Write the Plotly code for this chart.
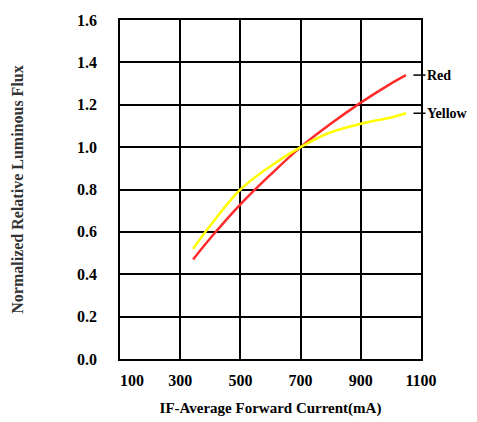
import plotly.graph_objects as go

# Data
red_x = [343, 400, 500, 600, 700, 800, 900, 1000, 1050]
red_y = [0.47, 0.57, 0.73, 0.87, 1.00, 1.11, 1.21, 1.30, 1.34]
yel_x = [343, 400, 500, 600, 700, 800, 900, 1000, 1050]
yel_y = [0.52, 0.63, 0.80, 0.91, 1.00, 1.07, 1.11, 1.14, 1.16]
x_ticks = [100, 300, 500, 700, 900, 1100]
y_ticks = [0.0, 0.2, 0.4, 0.6, 0.8, 1.0, 1.2, 1.4, 1.6]
series_names = ["Red", "Yellow"]

FONT = "Liberation Serif"

fig = go.Figure()
fig.add_trace(go.Scatter(x=red_x, y=red_y, mode="lines", line=dict(color="#FF2A2A", width=2.5, shape="spline"),
                         name=series_names[0], showlegend=False))
fig.add_trace(go.Scatter(x=yel_x, y=yel_y, mode="lines", line=dict(color="#FFFF00", width=2.5, shape="spline"),
                         name=series_names[1], showlegend=False))

# series labels at right
for name, yv in [(series_names[0], red_y[-1]), (series_names[1], yel_y[-1])]:
    fig.add_shape(type="line", xref="paper", yref="y", x0=0.975, x1=1.015, y0=yv, y1=yv,
                  line=dict(color="black", width=1.5))
    fig.add_annotation(xref="paper", yref="y", x=1.012, y=yv, text="<b>%s</b>" % name, showarrow=False,
                       xanchor="left", yanchor="middle", font=dict(family=FONT, size=14, color="black"))

x_text = []
for v in x_ticks:
    t = "<b>%d</b>" % v
    if v == x_ticks[0]:
        t = "\u00a0\u00a0\u00a0\u00a0\u00a0\u00a0" + t
    x_text.append(t)

fig.update_xaxes(range=[100, 1100], tickvals=x_ticks, ticktext=x_text, automargin=False,
                 showgrid=True, gridcolor="black", gridwidth=1.5, zeroline=False,
                 showline=True, linecolor="black", linewidth=1.5, mirror=True,
                 ticks="", ticklabelstandoff=6,
                 tickfont=dict(family=FONT, size=16, color="black"),
                 title=dict(text="<b>IF-Average Forward Current(mA)</b>", font=dict(family=FONT, size=15, color="black"),
                            standoff=15))
fig.update_yaxes(range=[0, 1.6], tickvals=y_ticks, ticktext=["<b>%.1f</b>" % v for v in y_ticks], automargin=False,
                 showgrid=True, gridcolor="black", gridwidth=1.5, zeroline=False,
                 showline=True, linecolor="black", linewidth=1.5, mirror=True,
                 ticks="", ticklabelstandoff=18,
                 tickfont=dict(family=FONT, size=16, color="black"),
                 title=dict(text="<b>Normalized Relative Luminous Flux</b>", font=dict(family=FONT, size=16, color="#333333"),
                            standoff=49))

fig.update_layout(width=477, height=422, margin=dict(l=120, r=56, t=20, b=63),
                  plot_bgcolor="white", paper_bgcolor="white")

fig.write_html("out.html")
